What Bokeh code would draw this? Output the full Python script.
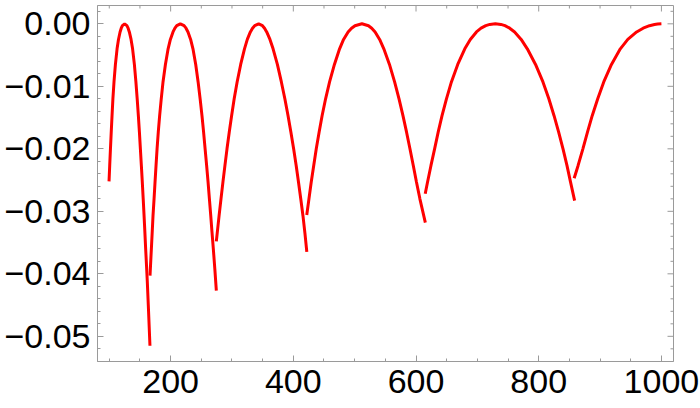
import math
from bokeh.plotting import figure
from bokeh.models import LinearAxis, FixedTicker, CustomJSTickFormatter, Range1d, ColumnDataSource
from bokeh.embed import file_html
from bokeh.resources import INLINE

# --- data ---
arc1_x = [99.6, 100.7, 101.9, 103.2, 104.5, 105.9, 107.7, 110.0, 112.7, 115.0, 117.6, 119.5, 121.4, 125.0,
          128.7, 130.7, 132.7, 135.5, 138.0, 140.9, 143.4, 145.5, 147.4, 149.1, 150.7, 152.3, 153.8, 155.3,
          156.7, 158.0, 159.3, 160.7, 162.0, 163.6, 166.3]
arc1_y = [-0.0252, -0.0227, -0.0200, -0.0173, -0.0147, -0.0120, -0.0093, -0.0065, -0.0040, -0.0025, -0.0013, -0.0007, -0.0003, 0.0,
          -0.0003, -0.0007, -0.0013, -0.0025, -0.0040, -0.0065, -0.0093, -0.0120, -0.0147, -0.0173, -0.0200, -0.0227, -0.0253, -0.0280,
          -0.0307, -0.0333, -0.0360, -0.0387, -0.0413, -0.0450, -0.0515]

arc2_x = [166.4, 168.6, 170.0, 171.3, 173.0, 174.6, 176.2, 177.9, 179.9, 182.1, 184.7, 187.6, 191.5, 195.9, 199.6, 203.9, 207.0, 210.0, 215.8,
          221.9, 225.1, 228.3, 232.6, 236.4, 240.9, 244.8, 248.1, 251.1, 253.7, 256.2, 258.7, 261.0, 263.2, 265.4, 267.4, 269.6, 272.1, 274.5]
arc2_y = [-0.0403, -0.0360, -0.0333, -0.0307, -0.0280, -0.0253, -0.0227, -0.0200, -0.0173, -0.0147, -0.0120, -0.0093, -0.0065, -0.0040, -0.0025, -0.0013, -0.0007, -0.0003, 0.0,
          -0.0003, -0.0007, -0.0013, -0.0025, -0.0040, -0.0065, -0.0093, -0.0120, -0.0147, -0.0173, -0.0200, -0.0227, -0.0253, -0.0280, -0.0307, -0.0333, -0.0360, -0.0393, -0.0427]

arc3_x = [274.5, 279.0, 282.1, 285.3, 288.5, 291.9, 295.6, 299.4, 303.6, 308.4, 314.2, 320.4, 325.0, 330.0, 333.5, 337.0, 343.5,
          349.7, 353.1, 356.6, 361.9, 367.0, 374.0, 380.5, 386.2, 391.4, 396.0, 400.5, 404.7, 408.4, 412.1, 415.7, 418.9, 422.0]
arc3_y = [-0.0348, -0.0307, -0.0280, -0.0253, -0.0227, -0.0200, -0.0173, -0.0147, -0.0120, -0.0093, -0.0065, -0.0040, -0.0025, -0.0013, -0.0007, -0.0003, 0.0,
          -0.0003, -0.0007, -0.0013, -0.0025, -0.0040, -0.0065, -0.0093, -0.0120, -0.0147, -0.0173, -0.0200, -0.0227, -0.0253, -0.0280, -0.0307, -0.0335, -0.0365]

arc4_x = [421.9, 425.5, 429.2, 433.2, 437.4, 442.1, 446.9, 452.6, 459.1, 467.0, 475.4, 481.9, 489.3, 494.9, 500.5, 511.8,
          522.5, 527.8, 533.3, 540.7, 547.5, 556.7, 565.1, 572.3, 578.7, 584.5, 590.1, 595.6, 600.7, 606.3, 615.2]
arc4_y = [-0.0306, -0.0280, -0.0253, -0.0227, -0.0200, -0.0173, -0.0147, -0.0120, -0.0093, -0.0065, -0.0040, -0.0025, -0.0013, -0.0007, -0.0003, 0.0,
          -0.0003, -0.0007, -0.0013, -0.0025, -0.0040, -0.0065, -0.0093, -0.0120, -0.0147, -0.0173, -0.0200, -0.0227, -0.0253, -0.0280, -0.0318]

arc5_x = [615.0, 618.8, 624.3, 630.3, 636.2, 642.4, 649.6, 657.7, 668.0, 679.5, 688.5, 698.5, 706.0, 713.7, 720.3, 729.3,
          738.3, 745.0, 752.7, 760.7, 771.4, 781.4, 794.8, 806.9, 816.5, 825.0, 832.4, 839.6, 846.1, 851.8, 858.5]
arc5_y = [-0.0272, -0.0253, -0.0227, -0.0200, -0.0173, -0.0147, -0.0120, -0.0093, -0.0065, -0.0040, -0.0025, -0.0013, -0.0007, -0.0003, -0.0001, 0.0,
          -0.0001, -0.0003, -0.0007, -0.0013, -0.0025, -0.0040, -0.0065, -0.0093, -0.0120, -0.0147, -0.0173, -0.0200, -0.0227, -0.0253, -0.0283]

arc6_x = [857.8, 864.1, 872.0, 879.6, 887.2, 896.2, 906.0, 918.6, 933.0, 945.2, 959.6, 970.2, 980.6, 988.8, 993.9, 1000.0]
arc6_y = [-0.0247, -0.0227, -0.0200, -0.0173, -0.0147, -0.0120, -0.0093, -0.0065, -0.0040, -0.0025, -0.0013, -0.0007, -0.0003, -0.0001, -0.00003, 0.0]

x_major = [200, 400, 600, 800, 1000]
x_minor = [100, 150, 250, 300, 350, 450, 500, 550, 650, 700, 750, 850, 900, 950]
y_major = [-0.05, -0.04, -0.03, -0.02, -0.01, 0.0]
y_minor = [-0.052, -0.048, -0.046, -0.044, -0.042, -0.038, -0.036, -0.034, -0.032,
           -0.028, -0.026, -0.024, -0.022, -0.018, -0.016, -0.014, -0.012,
           -0.008, -0.006, -0.004, -0.002, 0.002]

# --- layout / style ---
GRAY = "#9a9a9a"
FONT = "Liberation Sans"
X0, X1 = 80.8, 1019.7
Y0, Y1 = -0.05403, 0.00293

p = figure(width=700, height=404,
           x_range=Range1d(X0, X1), y_range=Range1d(Y0, Y1),
           output_backend="svg", toolbar_location=None,
           x_axis_location=None, y_axis_location=None,
           min_border_left=97, min_border_right=27,
           min_border_top=5, min_border_bottom=43)
p.grid.grid_line_color = None
p.outline_line_color = GRAY
p.outline_line_width = 1
p.background_fill_color = "white"
p.border_fill_color = "white"

xt = FixedTicker(ticks=x_major, minor_ticks=x_minor)
yt = FixedTicker(ticks=y_major, minor_ticks=y_minor)
yfmt = CustomJSTickFormatter(code="""
    if (Math.abs(tick) < 1e-9) { return '0.00'; }
    return (tick < 0 ? '\u2212' : '') + Math.abs(tick).toFixed(2);
""")

def make_axis(ticker, standoff, fmt=None):
    kw = dict(ticker=ticker,
              major_tick_in=6, major_tick_out=0,
              minor_tick_in=3, minor_tick_out=0,
              axis_line_color=GRAY, major_tick_line_color=GRAY,
              minor_tick_line_color=GRAY,
              axis_line_width=1, major_tick_line_width=1, minor_tick_line_width=1,
              major_label_text_font=FONT, major_label_text_color="black",
              major_label_text_font_size="34px", major_label_standoff=standoff)
    if fmt is not None:
        kw["formatter"] = fmt
    return LinearAxis(**kw)

p.add_layout(make_axis(xt, 8), "below")
p.add_layout(make_axis(yt, 7, yfmt), "left")

# inward ticks on the top and right frame edges
p.ray(x=x_major, y=[Y1] * len(x_major), length=6, length_units="screen",
      angle=-math.pi / 2, line_color=GRAY, line_width=1)
p.ray(x=x_minor, y=[Y1] * len(x_minor), length=3, length_units="screen",
      angle=-math.pi / 2, line_color=GRAY, line_width=1)
p.ray(x=[X1] * len(y_major), y=y_major, length=6, length_units="screen",
      angle=math.pi, line_color=GRAY, line_width=1)
p.ray(x=[X1] * len(y_minor), y=y_minor, length=3, length_units="screen",
      angle=math.pi, line_color=GRAY, line_width=1)

src = ColumnDataSource(data=dict(
    xs=[arc1_x, arc2_x, arc3_x, arc4_x, arc5_x, arc6_x],
    ys=[arc1_y, arc2_y, arc3_y, arc4_y, arc5_y, arc6_y],
))
p.multi_line(xs="xs", ys="ys", source=src, line_color="#ff0000", line_width=3)

with open("out.html", "w", encoding="utf-8") as f:
    f.write(file_html(p, INLINE))
